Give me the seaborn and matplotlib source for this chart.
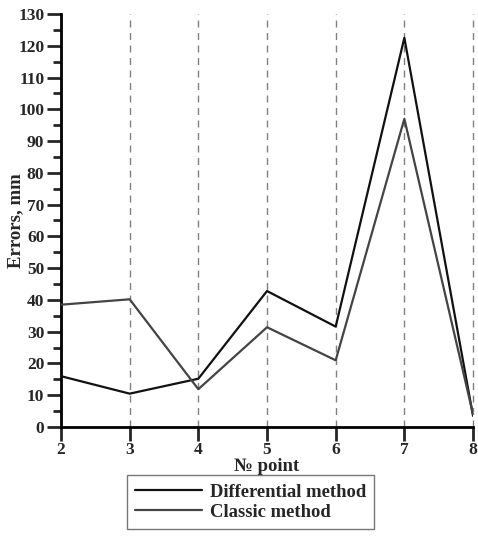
import matplotlib
matplotlib.use("Agg")
import matplotlib.pyplot as plt
import seaborn as sns
import pandas as pd
from matplotlib.ticker import MultipleLocator

points = [2, 3, 4, 5, 6, 7, 8]
differential = [16, 10.5, 15.2, 42.8, 31.6, 122.5, 3.5]
classic = [38.5, 40.2, 11.9, 31.4, 21, 97, 4]
series_names = ["Differential method", "Classic method"]

df = pd.DataFrame({
    "point": points * 2,
    "error": differential + classic,
    "method": [series_names[0]] * len(points) + [series_names[1]] * len(points),
})

sns.set_style("white")
plt.rcParams["font.family"] = ["Liberation Serif", "DejaVu Serif"]
plt.rcParams["font.weight"] = "bold"

fig = plt.figure(figsize=(4.78, 5.38), dpi=100)
ax = fig.add_axes([0.1276, 0.2063, 0.8620, 0.7677])

for x in points[1:]:
    ax.plot([x, x], [0, 130], linestyle=(0, (5, 4)), color="#808080", linewidth=1.0,
            zorder=1, clip_on=False)

sns.lineplot(data=df, x="point", y="error", hue="method",
             palette={series_names[0]: "#111111", series_names[1]: "#444444"},
             linewidth=1.6, ax=ax, legend=True, zorder=3)

ax.set_xlim(2, 8)
ax.set_ylim(0, 130)
ax.set_xticks(points)
ax.yaxis.set_major_locator(MultipleLocator(10))
ax.yaxis.set_minor_locator(MultipleLocator(5))
for s in ["top", "right"]:
    ax.spines[s].set_visible(False)
for s in ["left", "bottom"]:
    ax.spines[s].set_linewidth(2)
    ax.spines[s].set_color("black")
ax.tick_params(axis="y", which="major", direction="out", length=10, width=2, labelsize=12.5, pad=2, left=True)
ax.tick_params(axis="y", which="minor", direction="out", length=6, width=2, left=True)
ax.tick_params(axis="x", which="major", direction="out", length=10, width=2, labelsize=12.5, pad=1, bottom=True)
for lbl in ax.get_xticklabels() + ax.get_yticklabels():
    lbl.set_fontweight("bold")

ax.set_xlabel("№ point", fontsize=13.5, fontweight="bold", labelpad=0)
ax.set_ylabel("Errors, mm", fontsize=13.5, fontweight="bold")
ax.yaxis.set_label_coords(-0.09, 0.5)

handles, labels = ax.get_legend_handles_labels()
leg = ax.legend(handles, labels, loc="upper left", bbox_to_anchor=(0.16, -0.117),
                frameon=True, fancybox=False, handlelength=3.6,
                prop={"weight": "bold", "size": 13.4}, borderpad=0.45, labelspacing=0.15,
                handletextpad=0.4, edgecolor="#555555", borderaxespad=0)
leg.get_frame().set_linewidth(1.0)

fig.savefig("out.png", dpi=100)
